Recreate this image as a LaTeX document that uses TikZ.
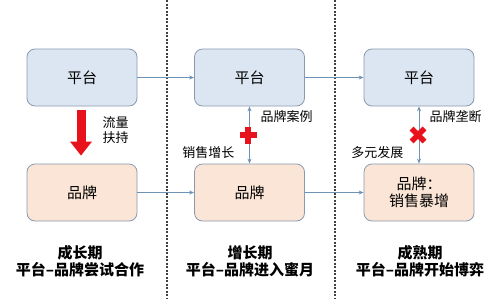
\documentclass[tikz,border=0pt]{standalone}
\usepackage{fontspec}
\setmainfont{Noto Sans CJK SC}
\usetikzlibrary{arrows.meta}
\definecolor{platfill}{HTML}{DCE6F2}
\definecolor{brandfill}{HTML}{FBE5D6}
\definecolor{boxline}{HTML}{8A9AAE}
\definecolor{linkline}{HTML}{6F93B6}
\definecolor{markred}{HTML}{E8121C}
\tikzset{
  platbox/.style={draw=boxline, fill=platfill, rounded corners=8pt, line width=0.8pt,
    minimum width=110pt, minimum height=57pt, font=\fontsize{15}{17}\selectfont},
  brandbox/.style={platbox, fill=brandfill, align=center},
  link/.style={draw=linkline, line width=0.8pt, -{Stealth[length=5pt,width=4pt]}},
  duallink/.style={link, {Stealth[length=5pt,width=4pt]}-{Stealth[length=5pt,width=4pt]}},
  sidelabel/.style={font=\fontsize{13}{15}\selectfont, align=left},
  phasetitle/.style={font=\bfseries\fontsize{15}{17}\selectfont, align=center},
  divider/.style={draw=black!75, line width=1.1pt, dash pattern=on 2pt off 1.5pt}
}
\begin{document}
\begin{tikzpicture}[x=1pt,y=-1pt]
  \useasboundingbox (0,0) rectangle (500,298);

  % Dividers
  \draw[divider] (167,0) -- (167,298);
  \draw[divider] (335,0) -- (335,298);

  % Panel 1
  \node[platbox] (plat1) at (82,77.5) {平台};
  \node[brandbox] (brand1) at (82,192.5) {品牌};
  \draw[markred, line width=9pt, shorten <=4pt, shorten >=8pt,
    -{Triangle[length=14pt,width=21pt]}] ([xshift=-1pt]plat1.south) -- ([xshift=-1pt]brand1.north);
  \node[sidelabel, anchor=west] (lbl1) at (99,130.5) {流量\\扶持};
  \node[phasetitle] (title1) at (80,261.5) {成长期\\平台–品牌尝试合作};

  % Panel 2
  \node[platbox] (plat2) at (249.5,77.5) {平台};
  \node[brandbox] (brand2) at (249.5,192.5) {品牌};
  \draw[duallink] (plat2.south) -- (brand2.north);
  \fill[markred] (248,135) ++(-8.5,-3) rectangle ++(17,6);
  \fill[markred] (248,135) ++(-3,-8.5) rectangle ++(6,17);
  \node[sidelabel, anchor=west] (lbl2a) at (257,117) {品牌案例};
  \node[sidelabel, anchor=east] (lbl2b) at (238,153) {销售增长};
  \node[phasetitle] (title2) at (250,261.5) {增长期\\平台–品牌进入蜜月};

  % Panel 3
  \node[platbox] (plat3) at (419,77.5) {平台};
  \node[brandbox] (brand3) at (419,192.5) {品牌：\\销售暴增};
  \draw[duallink] (plat3.south) -- (brand3.north);
  \draw[markred, line width=5.5pt] (418,135) ++(-6.5,-6.5) -- ++(13,13);
  \draw[markred, line width=5.5pt] (418,135) ++(6.5,-6.5) -- ++(-13,13);
  \node[sidelabel, anchor=west] (lbl3a) at (426,117) {品牌垄断};
  \node[sidelabel, anchor=east] (lbl3b) at (407,153) {多元发展};
  \node[phasetitle] (title3) at (420,261.5) {成熟期\\平台–品牌开始博弈};

  % Links between phases
  \draw[link] (plat1) -- (plat2);
  \draw[link] (plat2) -- (plat3);
  \draw[link] (brand1) -- (brand2);
  \draw[link] (brand2) -- (brand3);
\end{tikzpicture}
\end{document}
